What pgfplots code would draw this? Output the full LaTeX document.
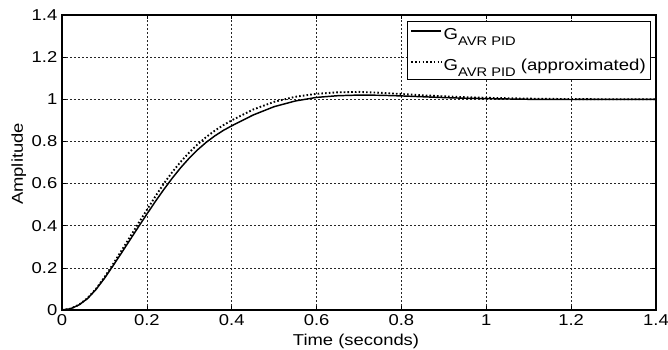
\documentclass[border=0pt]{standalone}
\usepackage{fontspec}
\setmainfont{Liberation Sans}[FakeStretch=1.17]
\usepackage{pgfplots}
\pgfplotsset{compat=1.18}
\begin{document}
\begin{tikzpicture}
\path[use as bounding box] (-46.5pt,-30pt) rectangle (454.5pt,232.5pt);
\begin{axis}[
  at={(0,0)}, anchor=south west,
  scale only axis,
  width=445.5pt, height=221.25pt,
  xmin=0, xmax=1.4, ymin=0, ymax=1.4,
  xtick={0,0.2,0.4,0.6,0.8,1,1.2,1.4},
  ytick={0,0.2,0.4,0.6,0.8,1,1.2,1.4},
  /pgf/number format/assume math mode=true,
  /pgf/number format/fixed,
  tick label style={font=\fontsize{11.8}{13}\selectfont},
  label style={font=\fontsize{11.8}{13}\selectfont},
  grid=major,
  major grid style={line width=0.4pt, black!85, dash pattern=on 1.5pt off 1.5pt},
  axis line style={line width=0.8pt, black},
  tick align=inside, major tick length=3pt,
  tick style={black, line width=0.5pt},
  xtick pos=both, ytick pos=both,
  xlabel={Time (seconds)},
  ylabel={Amplitude},
  xlabel style={at={([yshift=-26.8pt]axis description cs:0.495,0)}, anchor=base},
  ylabel style={at={([xshift=-29.25pt]axis description cs:0,0.495)}, anchor=base},
  legend style={at={(axis description cs:0.991,0.980)}, anchor=north east,
    font=\fontsize{11.9}{14}\selectfont, draw=black,
    inner xsep=2.5pt, inner ysep=4.5pt, row sep=11pt, cells={anchor=west},
    nodes={inner xsep=1pt, inner ysep=1pt}},
  legend cell align=left,
  legend image code/.code={\draw[#1] (0pt,3pt) -- (22.5pt,3pt);},
]
\addplot[black, line width=1.1pt] coordinates {
(0,0) (0.02,0.006) (0.04,0.024) (0.06,0.054) (0.08,0.097) (0.10,0.150)
(0.12,0.209) (0.14,0.270) (0.16,0.332) (0.18,0.394) (0.20,0.455)
(0.22,0.515) (0.24,0.572) (0.26,0.626) (0.28,0.676) (0.30,0.721)
(0.32,0.761) (0.34,0.796) (0.36,0.826) (0.38,0.852) (0.40,0.874)
(0.45,0.925) (0.50,0.965) (0.55,0.992) (0.60,1.009) (0.65,1.017)
(0.70,1.020) (0.75,1.019) (0.80,1.016) (0.85,1.012) (0.90,1.008)
(0.95,1.005) (1.00,1.003) (1.10,1.000) (1.20,0.999) (1.30,0.9995) (1.40,1.000)
};
\addlegendentry{G\raisebox{-0.75ex}{\fontsize{9.4}{10}\selectfont AVR PID}}
\addplot[black, line width=1.4pt, dash pattern=on 1.2pt off 1.6pt] coordinates {
(0,0) (0.02,0.006) (0.04,0.025) (0.06,0.056) (0.08,0.100) (0.10,0.155)
(0.12,0.217) (0.14,0.281) (0.16,0.346) (0.18,0.411) (0.20,0.475)
(0.22,0.539) (0.24,0.600) (0.26,0.655) (0.28,0.704) (0.30,0.748)
(0.32,0.787) (0.34,0.821) (0.36,0.851) (0.38,0.877) (0.40,0.900)
(0.45,0.951) (0.50,0.988) (0.55,1.012) (0.60,1.026) (0.65,1.033)
(0.70,1.035) (0.75,1.031) (0.80,1.025) (0.85,1.019) (0.90,1.014)
(0.95,1.010) (1.00,1.007) (1.10,1.003) (1.20,1.001) (1.30,1.000) (1.40,1.000)
};
\addlegendentry{G\raisebox{-0.75ex}{\fontsize{9.4}{10}\selectfont AVR PID} (approximated)}
\end{axis}
\end{tikzpicture}
\end{document}
